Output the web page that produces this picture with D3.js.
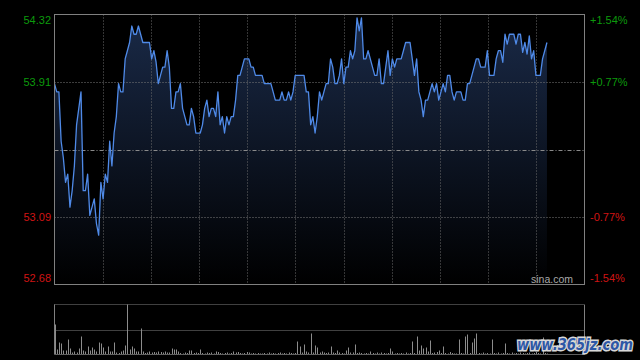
<!DOCTYPE html>
<html>
<head>
<meta charset="utf-8">
<script src="https://cdn.jsdelivr.net/npm/d3@7/dist/d3.min.js"></script>
<style>
html,body{margin:0;padding:0;background:#000;}
svg{display:block;}
</style>
</head>
<body>
<svg id="chart" width="640" height="360"></svg>
<script>
// ---- data ----
const preClose = 53.50;
const priceMin = 52.68;
const priceMax = 54.32;
const priceTicks = [54.32, 53.91, 53.09, 52.68];
const pctLabels = ["+1.54%", "+0.77%", "-0.77%", "-1.54%"];
const totalMinutes = 240;
const gridColumns = 11;

const prices = [
  53.90, 53.85, 53.85, 53.55, 53.45, 53.30, 53.35, 53.15, 53.25, 53.40,
  53.65, 53.75, 53.85, 53.25, 53.25, 53.35, 53.10, 53.15, 53.20, 53.05,
  52.98, 53.30, 53.20, 53.35, 53.30, 53.55, 53.40, 53.60, 53.70, 53.90,
  53.85, 53.85, 54.05, 54.10, 54.15, 54.25, 54.20, 54.20, 54.25, 54.20,
  54.15, 54.15, 54.15, 54.15, 54.05, 54.10, 54.03, 53.90, 53.95, 54.00,
  54.00, 54.10, 54.00, 53.75, 53.75, 53.85, 53.85, 53.90, 53.75, 53.70,
  53.65, 53.65, 53.75, 53.70, 53.60, 53.60, 53.60, 53.65, 53.75, 53.80,
  53.70, 53.75, 53.75, 53.70, 53.85, 53.65, 53.70, 53.60, 53.70, 53.65,
  53.70, 53.70, 53.80, 53.95, 53.95, 54.00, 54.05, 54.05, 54.05, 54.00,
  54.00, 53.95, 53.95, 53.95, 53.95, 53.90, 53.90, 53.90, 53.90, 53.85,
  53.80, 53.80, 53.80, 53.85, 53.80, 53.80, 53.85, 53.80, 53.85, 53.95,
  53.95, 53.95, 53.95, 53.95, 53.85, 53.85, 53.65, 53.70, 53.60, 53.70,
  53.85, 53.80, 53.85, 53.90, 53.90, 54.05, 54.00, 53.90, 53.90, 53.95,
  54.05, 53.90, 54.00, 54.00, 54.10, 54.05, 54.10, 54.30, 54.22, 54.30,
  54.05, 54.05, 54.10, 54.05, 54.00, 53.95, 53.95, 54.05, 53.90, 53.90,
  54.00, 54.10, 53.95, 54.05, 54.00, 54.05, 54.05, 54.05, 54.10, 54.15,
  54.15, 54.15, 54.05, 53.95, 54.05, 53.85, 53.80, 53.70, 53.80, 53.80,
  53.85, 53.90, 53.85, 53.90, 53.80, 53.85, 53.90, 53.85, 53.95, 53.95,
  53.85, 53.80, 53.85, 53.85, 53.85, 53.80, 53.80, 53.90, 53.90, 53.95,
  54.00, 54.05, 54.05, 54.00, 54.00, 54.00, 54.10, 53.95, 53.95, 53.95,
  54.05, 54.10, 54.10, 54.03, 54.20, 54.14, 54.20, 54.20, 54.20, 54.14,
  54.20, 54.20, 54.09, 54.15, 54.08, 54.19, 54.05, 54.10, 53.95, 53.95,
  53.95, 54.05, 54.10, 54.15
];

const volumes = [
  60, 10, 24, 22, 8, 8, 30, 12, 4, 6,
  4, 12, 36, 8, 6, 16, 8, 14, 10, 6,
  24, 22, 14, 6, 16, 6, 6, 24, 4, 3,
  6, 8, 18, 100, 10, 16, 12, 6, 6, 52,
  6, 3, 4, 6, 4, 5, 4, 6, 5, 4,
  6, 4, 4, 12, 10, 10, 6, 3, 2, 4,
  3, 8, 8, 3, 4, 3, 10, 3, 2, 4,
  3, 4, 2, 6, 5, 3, 2, 3, 4, 2,
  3, 6, 4, 5, 3, 2, 3, 5, 4, 2,
  3, 2, 3, 2, 2, 3, 2, 4, 2, 3,
  2, 3, 4, 2, 3, 2, 4, 3, 2, 3,
  26, 16, 4, 20, 6, 4, 42, 4, 18, 14,
  4, 6, 4, 3, 4, 16, 4, 3, 8, 4,
  3, 2, 8, 14, 4, 4, 20, 3, 4, 3,
  2, 3, 2, 6, 3, 2, 4, 2, 4, 3,
  2, 3, 12, 6, 2, 3, 2, 3, 2, 4,
  2, 3, 26, 3, 36, 8, 18, 12, 14, 6,
  28, 3, 4, 5, 8, 3, 16, 3, 2, 5,
  3, 2, 2, 30, 3, 2, 36, 40, 3, 24,
  32, 42, 3, 2, 4, 2, 3, 2, 30, 3,
  2, 4, 2, 3, 22, 3, 2, 4, 2, 3,
  2, 4, 3, 2, 3, 4, 2, 3, 5, 3,
  2, 34, 3, 2
];
const volumeMax = 100;

// ---- layout ----
const L = 54.5, R = 584.5, T = 14.5, B = 284.5;
const VT = 304.5, VB = 354.5;

const svg = d3.select("#chart");
svg.append("rect").attr("width", 640).attr("height", 360).attr("fill", "#000");

const x = d3.scaleLinear().domain([0, totalMinutes]).range([L, R]);
const y = d3.scaleLinear().domain([priceMin, priceMax]).range([B, T]);
const col = d3.scaleLinear().domain([0, gridColumns]).range([L, R]);
const yv = d3.scaleLinear().domain([0, volumeMax]).range([VB, VT]);

// gradient
const defs = svg.append("defs");
const grad = defs.append("linearGradient").attr("id", "areaGrad")
  .attr("gradientUnits", "userSpaceOnUse")
  .attr("y1", T).attr("y2", B).attr("x1", 0).attr("x2", 0);
grad.append("stop").attr("offset", "0%").attr("stop-color", "#1a2a48");
grad.append("stop").attr("offset", "100%").attr("stop-color", "#000000");

// area
const area = d3.area()
  .x((d, i) => x(i))
  .y0(B)
  .y1(d => y(d));
svg.append("path").datum(prices).attr("d", area).attr("fill", "url(#areaGrad)");

// grid: vertical
const g = svg.append("g");
g.selectAll("line.v").data(d3.range(1, gridColumns)).join("line")
  .attr("x1", d => Math.round(col(d)) + 0.5).attr("x2", d => Math.round(col(d)) + 0.5)
  .attr("y1", T).attr("y2", B)
  .attr("stroke", "#6a6a6a").attr("stroke-width", 1).attr("stroke-dasharray", "1,2");

// grid: horizontal at inner price ticks
g.selectAll("line.h").data(priceTicks.slice(1, 3)).join("line")
  .attr("x1", L).attr("x2", R)
  .attr("y1", d => Math.round(y(d)) + 0.5).attr("y2", d => Math.round(y(d)) + 0.5)
  .attr("stroke", "#7a7a7a").attr("stroke-width", 1).attr("stroke-dasharray", "1,2");

// pre-close line
g.append("line")
  .attr("x1", L).attr("x2", R)
  .attr("y1", Math.round(y(preClose)) + 0.5).attr("y2", Math.round(y(preClose)) + 0.5)
  .attr("stroke", "#8a8a8a").attr("stroke-width", 1).attr("stroke-dasharray", "4,2,1,2");

// price line
const line = d3.line().x((d, i) => x(i)).y(d => y(d));
svg.append("path").datum(prices).attr("d", line)
  .attr("fill", "none").attr("stroke", "#4f8ae8").attr("stroke-width", 1.3)
  .attr("stroke-linejoin", "round");

// border of main
svg.append("rect").attr("x", L).attr("y", T).attr("width", R - L).attr("height", B - T)
  .attr("fill", "none").attr("stroke", "#808080").attr("stroke-width", 1);

// left labels
const fontFam = "'Liberation Sans', Arial, sans-serif";
function labelY(v, i, n) {
  const yy = y(v);
  if (i === 0) return yy + 9.8;
  if (i === n - 1) return yy - 2.8;
  return yy + 3.8;
}
svg.selectAll("text.lp").data(priceTicks).join("text")
  .attr("x", 51).attr("y", (d, i) => labelY(d, i, priceTicks.length))
  .attr("text-anchor", "end")
  .attr("font-family", fontFam).attr("font-size", 11)
  .attr("fill", d => d > preClose ? "#0c9a0c" : "#d01414")
  .text(d => d.toFixed(2));

svg.selectAll("text.rp").data(priceTicks).join("text")
  .attr("x", 590).attr("y", (d, i) => labelY(d, i, priceTicks.length))
  .attr("text-anchor", "start")
  .attr("font-family", fontFam).attr("font-size", 11)
  .attr("fill", d => d > preClose ? "#0c9a0c" : "#d01414")
  .text((d, i) => pctLabels[i]);

// sina.com
svg.append("text").attr("x", 573).attr("y", 283)
  .attr("text-anchor", "end")
  .attr("font-family", fontFam).attr("font-size", 10.5)
  .attr("fill", "#a8a8a8").text("sina.com");

// volume panel
svg.append("line").attr("x1", L).attr("x2", R).attr("y1", VT).attr("y2", VT)
  .attr("stroke", "#808080").attr("stroke-dasharray", "1,1");
svg.append("line").attr("x1", L).attr("x2", R)
  .attr("y1", Math.round(yv(volumeMax / 2)) + 0.5).attr("y2", Math.round(yv(volumeMax / 2)) + 0.5)
  .attr("stroke", "#808080").attr("stroke-dasharray", "1,1");

svg.append("g").selectAll("rect").data(volumes).join("rect")
  .attr("x", (d, i) => Math.round(x(i)))
  .attr("width", 1)
  .attr("y", d => yv(d))
  .attr("height", d => VB - yv(d))
  .attr("fill", "#8c8c8c");

svg.append("line").attr("x1", L).attr("x2", L).attr("y1", VT).attr("y2", VB)
  .attr("stroke", "#808080");
svg.append("line").attr("x1", R).attr("x2", R).attr("y1", VT).attr("y2", VB)
  .attr("stroke", "#808080");
svg.append("line").attr("x1", L).attr("x2", R).attr("y1", VB).attr("y2", VB)
  .attr("stroke", "#606060");

// site watermark
svg.append("text").attr("x", 517).attr("y", 350)
  .attr("font-family", "'DejaVu Sans', sans-serif").attr("font-weight", "bold")
  .attr("font-style", "italic").attr("font-size", 16)
  .attr("fill", "#2d57a6").attr("stroke", "#d8d8d8").attr("stroke-width", 3)
  .attr("paint-order", "stroke").attr("textLength", 116)
  .attr("lengthAdjust", "spacingAndGlyphs")
  .text("www.365jz.com");
</script>
</body>
</html>
